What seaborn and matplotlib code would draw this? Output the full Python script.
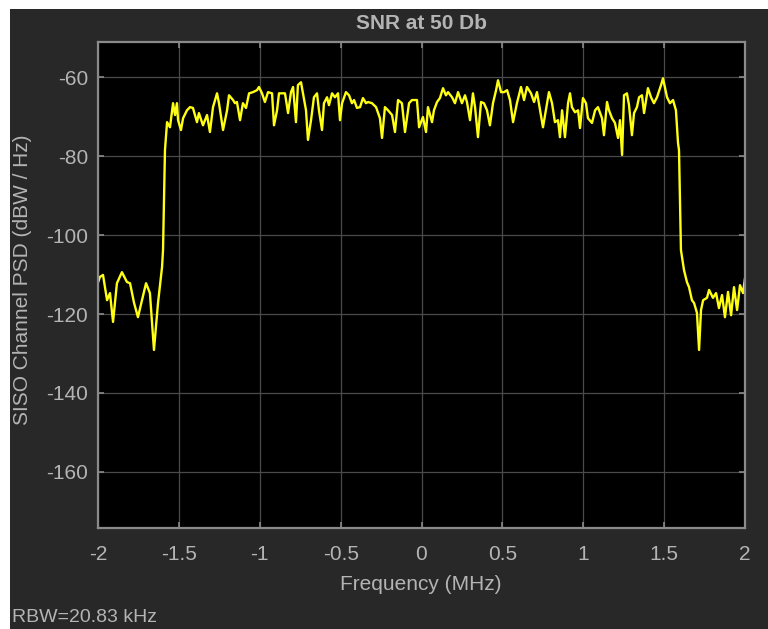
import numpy as np
import pandas as pd
import matplotlib
matplotlib.use('Agg')
import matplotlib.pyplot as plt
import seaborn as sns
from matplotlib.patches import Rectangle

# PSD trace (MHz, dBW/Hz)
freq_mhz = [
    -2.000, -1.988, -1.969, -1.944, -1.926, -1.907, -1.883, -1.852, -1.821, -1.802,
    -1.777, -1.753, -1.728, -1.703, -1.679, -1.654, -1.629, -1.604, -1.598,
    -1.586, -1.573, -1.555, -1.536, -1.524, -1.512, -1.505, -1.487, -1.474, -1.450,
    -1.431, -1.413, -1.388, -1.376, -1.351, -1.326, -1.308, -1.289, -1.264, -1.252,
    -1.227, -1.202, -1.190, -1.165, -1.153, -1.141, -1.122, -1.104, -1.085, -1.066,
    -1.042, -1.017, -1.005, -0.986, -0.968, -0.949, -0.924, -0.912, -0.893, -0.881,
    -0.844, -0.825, -0.807, -0.794, -0.776, -0.764, -0.745, -0.733, -0.714, -0.702,
    -0.683, -0.665, -0.646, -0.634, -0.615, -0.603, -0.584, -0.572, -0.553, -0.535,
    -0.516, -0.504, -0.491, -0.467, -0.448, -0.430, -0.417, -0.399, -0.380, -0.362,
    -0.343, -0.331, -0.306, -0.281, -0.257, -0.244, -0.226, -0.207, -0.182, -0.164,
    -0.145, -0.121, -0.102, -0.077, -0.059,
    -0.028, -0.015, 0.009, 0.028, 0.040, 0.065, 0.077, 0.096, 0.114, 0.133,
    0.151, 0.164, 0.189, 0.207, 0.226, 0.250, 0.269, 0.281, 0.300, 0.318,
    0.331, 0.349, 0.368, 0.386, 0.405, 0.423, 0.442, 0.461, 0.473, 0.492,
    0.510, 0.529, 0.547, 0.566, 0.590, 0.615, 0.634, 0.652, 0.677, 0.696, 0.714,
    0.751, 0.776, 0.788, 0.807, 0.825, 0.844, 0.856, 0.869, 0.887, 0.906,
    0.918, 0.930, 0.949, 0.968, 0.980, 0.998, 1.017, 1.029, 1.054, 1.073,
    1.091, 1.116, 1.128, 1.147, 1.159, 1.178, 1.196, 1.215, 1.227, 1.240,
    1.252, 1.270, 1.283, 1.301, 1.314, 1.332, 1.345, 1.363, 1.376, 1.400,
    1.419, 1.437, 1.456, 1.481, 1.493, 1.518, 1.536, 1.555, 1.573, 1.586,
    1.592, 1.604,
    1.623, 1.641, 1.654, 1.672, 1.685, 1.703, 1.716, 1.728, 1.741, 1.765,
    1.778, 1.802, 1.821, 1.839, 1.858, 1.876, 1.895, 1.914, 1.932, 1.951,
    1.969, 1.988, 2.000,
]
psd_dbw = [
    -112.0, -110.6, -110.1, -116.5, -114.7, -122.0, -112.2, -109.4, -111.9, -112.2,
    -117.2, -120.8, -116.5, -112.2, -114.7, -129.1, -117.2, -108.1, -103.8,
    -78.5, -71.4, -72.7, -66.6, -69.6, -66.6, -70.9, -73.4, -70.4, -68.4,
    -67.6, -67.8, -71.4, -69.1, -72.2, -69.6, -73.9, -67.6, -64.1, -66.6,
    -73.4, -68.4, -64.6, -65.8, -66.6, -66.3, -70.9, -66.6, -67.8, -64.1,
    -63.8, -63.3, -62.5, -64.1, -66.3, -63.8, -64.1, -72.2, -68.4, -64.1,
    -64.1, -69.1, -63.8, -62.5, -71.4, -62.0, -61.3, -64.1, -68.4, -75.9,
    -70.9, -65.1, -64.1, -68.4, -73.4, -66.6, -65.1, -67.1, -64.1, -65.1,
    -64.1, -70.9, -66.6, -63.8, -64.6, -66.6, -65.8, -67.8, -67.6, -65.3,
    -66.6, -66.3, -66.6, -67.6, -70.4, -75.4, -67.6, -68.4, -69.6, -73.9,
    -65.8, -66.6, -73.9, -66.6, -65.8,
    -65.8, -72.7, -70.1, -73.9, -67.6, -71.4, -68.4, -66.3, -65.3, -62.8,
    -64.6, -63.8, -65.1, -66.6, -63.8, -66.6, -64.6, -66.3, -70.9, -64.1,
    -67.6, -75.2, -66.3, -66.6, -68.4, -72.2, -66.6, -63.3, -60.8, -63.8,
    -63.8, -63.3, -65.8, -71.4, -66.6, -62.5, -65.8, -62.5, -64.1, -66.3, -63.8,
    -72.7, -66.6, -63.8, -66.6, -71.4, -70.9, -75.2, -68.4, -75.2, -66.6,
    -64.1, -67.6, -68.9, -68.4, -72.9, -65.3, -66.6, -70.4, -71.6, -68.4,
    -67.6, -70.4, -74.7, -66.3, -68.4, -70.4, -71.6, -75.4, -70.9, -79.7,
    -64.6, -64.1, -67.1, -74.7, -69.1, -67.6, -65.1, -64.6, -69.1, -62.8,
    -65.1, -66.6, -65.1, -62.0, -60.3, -65.1, -66.6, -65.8, -68.4, -76.7,
    -78.5, -103.8,
    -108.9, -111.9, -113.2, -116.5, -117.2, -119.7, -129.1, -119.0, -116.5, -115.9,
    -113.9, -115.9, -114.7, -118.5, -115.2, -120.8, -114.4, -120.3, -113.2, -119.0,
    -112.7, -114.7, -110.9,
]

x_ticks = [-2, -1.5, -1, -0.5, 0, 0.5, 1, 1.5, 2]
x_tick_labels = ['-2', '-1.5', '-1', '-0.5', '0', '0.5', '1', '1.5', '2']
y_ticks = [-160, -140, -120, -100, -80, -60]

df = pd.DataFrame({'freq': freq_mhz, 'psd': psd_dbw})

bg = '#282828'
fg = '#b4b4b4'
frame = '#8a8a8a'

sns.set_theme(style='dark', rc={
    'axes.facecolor': 'black',
    'axes.edgecolor': frame,
    'axes.linewidth': 1.6,
    'axes.unicode_minus': False,
    'grid.color': '#4a4a4a',
    'grid.linewidth': 0.9,
    'xtick.color': frame,
    'ytick.color': frame,
    'xtick.labelcolor': fg,
    'ytick.labelcolor': fg,
})
plt.rcParams['font.family'] = ['Liberation Sans', 'DejaVu Sans']

fig = plt.figure(figsize=(7.68, 6.29), dpi=100, facecolor='white')
fig.patches.append(Rectangle((10 / 768, 0), 1 - 10 / 768, 1 - 9 / 629,
                             transform=fig.transFigure, facecolor=bg,
                             edgecolor='none', zorder=-1))

ax = fig.add_axes([98 / 768, 1 - 528 / 629, (745 - 98) / 768, (528 - 42) / 629])
sns.lineplot(data=df, x='freq', y='psd', ax=ax, color='#ffff14',
             linewidth=1.7, estimator=None, sort=False)

ax.set_xlim(-2, 2)
ax.set_ylim(-174.2, -51.1)
ax.set_xticks(x_ticks)
ax.set_xticklabels(x_tick_labels)
ax.set_yticks(y_ticks)
ax.grid(True, which='major')
ax.tick_params(direction='in', length=4, width=1.2, labelsize=15,
               top=True, right=True, bottom=True, left=True)
ax.tick_params(axis='x', pad=12)
ax.tick_params(axis='y', pad=7)
ax.set_xlabel('')
ax.set_ylabel('')

fig.text(421 / 768, 1 - 29 / 629, 'SNR at 50 Db', ha='center', va='baseline',
         fontsize=15, fontweight='bold', color=fg)
fig.text(421 / 768, 1 - 590 / 629, 'Frequency (MHz)', ha='center',
         va='baseline', fontsize=15, color=fg)
fig.text(23 / 768, 1 - 280 / 629, 'SISO Channel PSD (dBW / Hz)', rotation=90,
         ha='center', va='center', fontsize=15, color=fg)
fig.text(12 / 768, 1 - 622 / 629, 'RBW=20.83 kHz', ha='left', va='baseline',
         fontsize=14, color=fg)

fig.savefig('out.png', dpi=100, facecolor=fig.get_facecolor())
